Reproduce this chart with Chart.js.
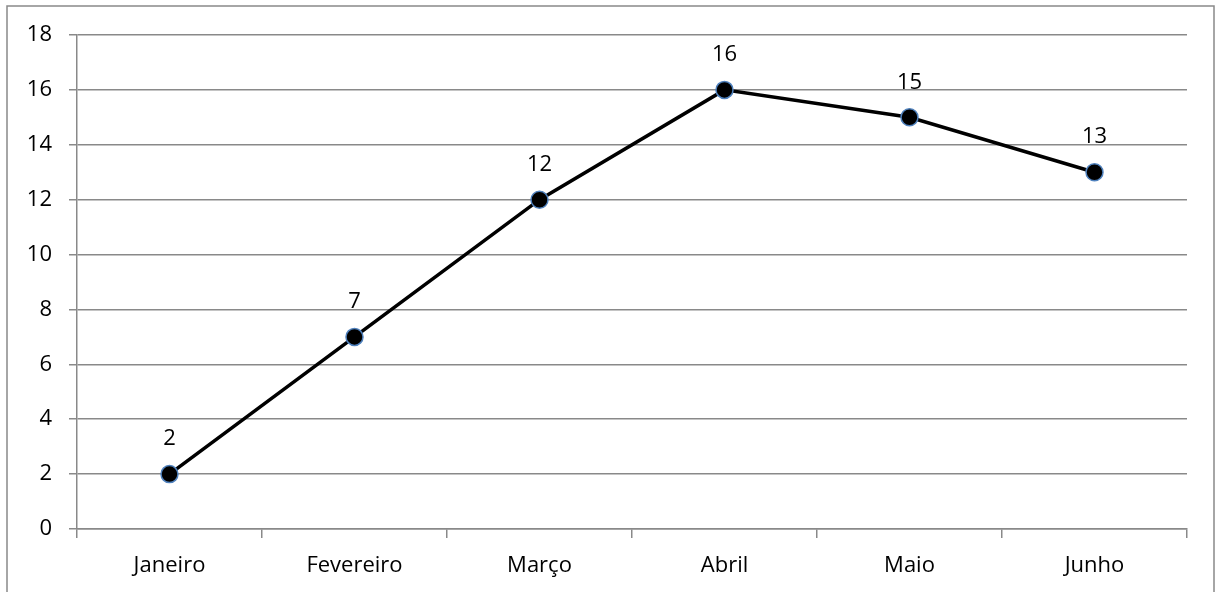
<!DOCTYPE html>
<html lang="pt">
<head>
<meta charset="UTF-8">
<script src="https://cdn.jsdelivr.net/npm/chart.js"></script>
<style>
  html, body { margin: 0; padding: 0; background: #fff; }
  canvas { display: block; }
</style>
</head>
<body>
<canvas id="chart" width="1216" height="592"></canvas>
<script>
const months = ['Janeiro', 'Fevereiro', 'Março', 'Abril', 'Maio', 'Junho'];
const values = [2, 7, 12, 16, 15, 13];
const yTicks = [0, 2, 4, 6, 8, 10, 12, 14, 16, 18];

const FONT = { family: '"Open Sans", "DejaVu Sans", sans-serif', size: 22 };
const GRID = '#898989';

// frame around the whole picture (bottom edge falls outside the canvas)
const frame = {
  id: 'frame',
  beforeDraw(chart) {
    const c = chart.ctx;
    c.save();
    c.strokeStyle = GRID;
    c.lineWidth = 1.5;
    c.strokeRect(7, 6, 1207, 620);
    c.restore();
  }
};

// value labels above each point
const valueLabels = {
  id: 'valueLabels',
  afterDatasetsDraw(chart) {
    const c = chart.ctx;
    const meta = chart.getDatasetMeta(0);
    c.save();
    c.font = FONT.size + 'px ' + FONT.family;
    c.fillStyle = '#000';
    c.textAlign = 'center';
    c.textBaseline = 'middle';
    meta.data.forEach((pt, i) => {
      c.fillText(String(values[i]), pt.x, pt.y - 35);
    });
    c.restore();
  }
};

new Chart(document.getElementById('chart'), {
  type: 'line',
  data: {
    labels: months,
    datasets: [{
      data: values,
      borderColor: '#000',
      borderWidth: 3.5,
      pointRadius: 8.5,
      pointHoverRadius: 8.5,
      pointBackgroundColor: '#000',
      pointBorderColor: '#4f81bd',
      pointBorderWidth: 1.5,
      tension: 0
    }]
  },
  options: {
    responsive: false,
    animation: false,
    events: [],
    layout: { padding: { left: 0, right: 29, top: 35, bottom: 0 } },
    plugins: { legend: { display: false }, tooltip: { enabled: false } },
    scales: {
      x: {
        offset: true,
        grid: { offset: true, drawOnChartArea: false, drawTicks: true, tickLength: 9, color: GRID, lineWidth: 1.5 },
        border: { color: GRID, width: 1.5 },
        ticks: { color: '#000', font: FONT, padding: 15, maxRotation: 0 },
        afterFit(scale) { scale.height = 63; }
      },
      y: {
        min: 0,
        max: 18,
        afterBuildTicks(scale) { scale.ticks = yTicks.map(v => ({ value: v })); },
        grid: { color: GRID, lineWidth: 1.5, tickLength: 8 },
        border: { color: GRID, width: 1.5 },
        ticks: { color: '#000', font: FONT, padding: 17 },
        afterFit(scale) { scale.width = 77; }
      }
    }
  },
  plugins: [frame, valueLabels]
});
</script>
</body>
</html>
